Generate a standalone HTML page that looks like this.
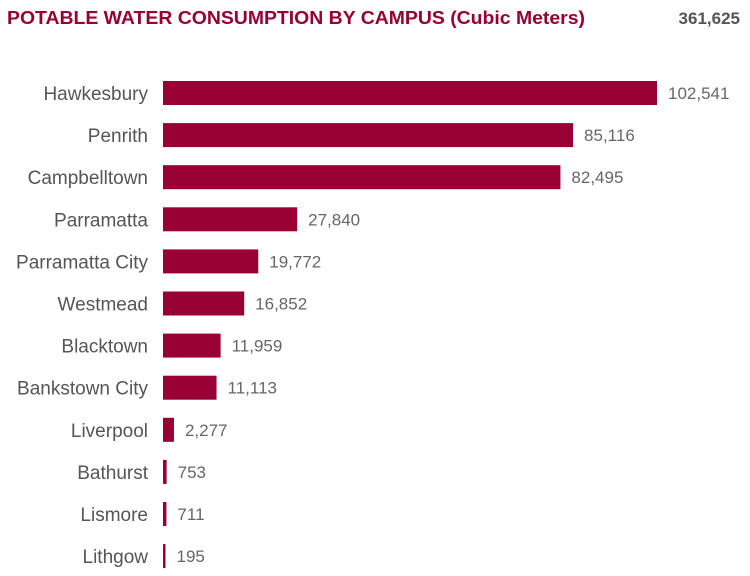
<!DOCTYPE html>
<html><head><meta charset="utf-8"><style>
html,body{margin:0;padding:0;background:#fff;}
svg{display:block;font-family:"Liberation Sans",sans-serif;}
</style></head><body>
<svg id="chart" width="750" height="576" viewBox="0 0 750 576">
<text x="7" y="24" font-size="18" font-weight="bold" fill="#990033" textLength="578" lengthAdjust="spacingAndGlyphs">POTABLE WATER CONSUMPTION BY CAMPUS (Cubic Meters)</text>
<text x="740" y="24" font-size="17" font-weight="bold" fill="#555" text-anchor="end">361,625</text>
<g id="bars"></g>
</svg>
<script>
const categories=["Hawkesbury","Penrith","Campbelltown","Parramatta","Parramatta City","Westmead","Blacktown","Bankstown City","Liverpool","Bathurst","Lismore","Lithgow"];
const values=[102541,85116,82495,27840,19772,16852,11959,11113,2277,753,711,195];
const x0=163, xScale=v=>v*(494/102541);
const yCenter=i=>93+i*42.1;
const NS="http://www.w3.org/2000/svg";
const g=document.getElementById('bars');
const fmt=v=>v.toLocaleString('en-US');
categories.forEach((c,i)=>{
  const cy=yCenter(i);
  const w=Math.max(2.5,xScale(values[i]));
  const r=document.createElementNS(NS,'rect');
  
  
  r.setAttribute('x',x0);r.setAttribute('y',cy-12);r.setAttribute('width',w);r.setAttribute('height',24);r.setAttribute('fill','#990033');
  g.appendChild(r);
  const t=document.createElementNS(NS,'text');
  
  
  t.setAttribute('x',148);t.setAttribute('y',cy+7);t.setAttribute('text-anchor','end');t.setAttribute('font-size','19');t.setAttribute('fill','#555');
  t.textContent=c;g.appendChild(t);
  const v=document.createElementNS(NS,'text');
  
  
  v.setAttribute('x',x0+w+11);v.setAttribute('y',cy+6);v.setAttribute('font-size','17');v.setAttribute('fill','#666');
  v.textContent=fmt(values[i]);g.appendChild(v);
});
</script>
</body></html>
